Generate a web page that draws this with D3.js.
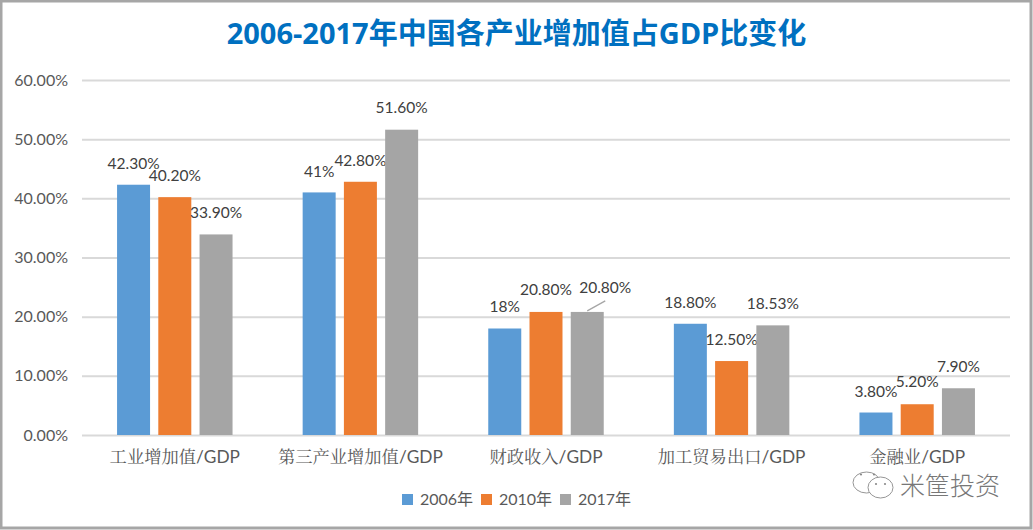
<!DOCTYPE html>
<html><head><meta charset="utf-8">
<script src="https://cdn.jsdelivr.net/npm/d3@7"></script>
<style>html,body{margin:0;padding:0;background:#fff}svg{display:block}
text{font-family:Lato,"Noto Sans CJK SC",sans-serif}</style></head>
<body><div id="chart"></div>
<script>
const categories=["工业增加值/GDP","第三产业增加值/GDP","财政收入/GDP","加工贸易出口/GDP","金融业/GDP"];
const years=["2006年","2010年","2017年"];
const v2006=[42.3,41,18,18.8,3.8];
const v2010=[40.2,42.8,20.8,12.5,5.2];
const v2017=[33.9,51.6,20.8,18.53,7.9];
const l2006=["42.30%","41%","18%","18.80%","3.80%"];
const l2010=["40.20%","42.80%","20.80%","12.50%","5.20%"];
const l2017=["33.90%","51.60%","20.80%","18.53%","7.90%"];
const yTicks=[0,10,20,30,40,50,60];
const colors=["#5b9bd5","#ed7d31","#a5a5a5"];
// manual label nudges [dx, baseline offset above bar top], per series then category
const nudges=[
 [[0,16],[0,15],[0,17],[0,16],[0,16]],
 [[0,16],[0,16],[0,17],[0,16],[0,17]],
 [[0,16],[0,17],[18,19],[0,16],[0,16]]];
const W=1033,H=530;
const svg=d3.select("#chart").append("svg").attr("width",W).attr("height",H);
svg.append("rect").attr("x",1).attr("y",1).attr("width",W-3).attr("height",H-3)
  .attr("fill","#fff").attr("stroke","#a6a6a6").attr("stroke-width",3);
svg.append("text").attr("x",516.5).attr("y",44).attr("text-anchor","middle")
  .attr("font-size",29).attr("font-weight",700).attr("fill","#0070c0")
  .style("font-family",'"Open Sans","Noto Sans CJK SC",sans-serif')
  .text("2006-2017年中国各产业增加值占GDP比变化");
const y=d3.scaleLinear().domain([0,60]).range([435,80]);
const x0=d3.scaleBand().domain(categories).range([82,1010]);
const x1=d3.scaleBand().domain(years).range([0,x0.bandwidth()]).paddingInner(0.2).paddingOuter(0.85);
const yAxis=d3.axisLeft(y).tickValues(yTicks).tickFormat(d=>d.toFixed(2)+"%").tickSize(-(1010-82)).tickPadding(14);
const gy=svg.append("g").attr("transform","translate(82,0)").call(yAxis);
gy.select(".domain").remove();
gy.selectAll("line").attr("stroke","#d9d9d9").attr("stroke-width",2);
gy.selectAll("text").attr("font-size",16).attr("fill","#595959").style("font-family",'Lato,sans-serif');
const series=[v2006,v2010,v2017], labels=[l2006,l2010,l2017];
series.forEach((vals,s)=>{
  const g=svg.append("g");
  g.selectAll("rect").data(vals).join("rect")
    .attr("x",(d,i)=>x0(categories[i])+x1(years[s]))
    .attr("width",x1.bandwidth())
    .attr("y",d=>y(d)).attr("height",d=>y(0)-y(d)).attr("fill",colors[s]);
  g.selectAll("text").data(vals).join("text")
    .attr("x",(d,i)=>x0(categories[i])+x1(years[s])+x1.bandwidth()/2+nudges[s][i][0])
    .attr("y",(d,i)=>y(d)-nudges[s][i][1])
    .attr("text-anchor","middle").attr("font-size",15.5).attr("fill","#404040")
    .text((d,i)=>labels[s][i]);
});
// leader line for the third-category 2017 label
const lx=x0(categories[2])+x1(years[2])+x1.bandwidth()/2, ly=y(v2017[2]);
svg.append("line").attr("x1",lx).attr("y1",ly-1).attr("x2",lx+18).attr("y2",ly-11)
  .attr("stroke","#a6a6a6").attr("stroke-width",1.3);
svg.append("g").selectAll("text").data(categories).join("text")
  .attr("x",d=>x0(d)+x0.bandwidth()/2).attr("y",462.5).attr("text-anchor","middle")
  .attr("font-size",17.3).attr("fill","#595959")
  .style("font-family",'Lato,"Noto Serif CJK SC","Noto Sans CJK SC",sans-serif').text(d=>d);
const legendX=[402,481,560];
years.forEach((t,i)=>{
  svg.append("rect").attr("x",legendX[i]).attr("y",494).attr("width",11).attr("height",11).attr("fill",colors[i]);
  svg.append("text").attr("x",legendX[i]+18).attr("y",505).attr("font-size",16).attr("fill","#595959").text(t);
});
// watermark
const wm=svg.append("g").attr("fill","#fff").attr("stroke","#8a8a8a").attr("stroke-width",0.9);
wm.append("ellipse").attr("cx",866.5).attr("cy",482.5).attr("rx",13.5).attr("ry",10.5);
wm.append("ellipse").attr("cx",880.5).attr("cy",487.5).attr("rx",12.5).attr("ry",10.5);
const eyes=svg.append("g").attr("fill","#8a8a8a");
[[861,474.5],[874,474.5],[876,484],[885,484]].forEach(p=>eyes.append("circle").attr("cx",p[0]).attr("cy",p[1]).attr("r",1.1));
svg.append("text").attr("x",900).attr("y",495).attr("font-size",25).attr("fill","#777")
  .style("font-family",'"Noto Sans CJK SC",sans-serif').style("font-weight",300).text("米筐投资");
</script></body></html>
